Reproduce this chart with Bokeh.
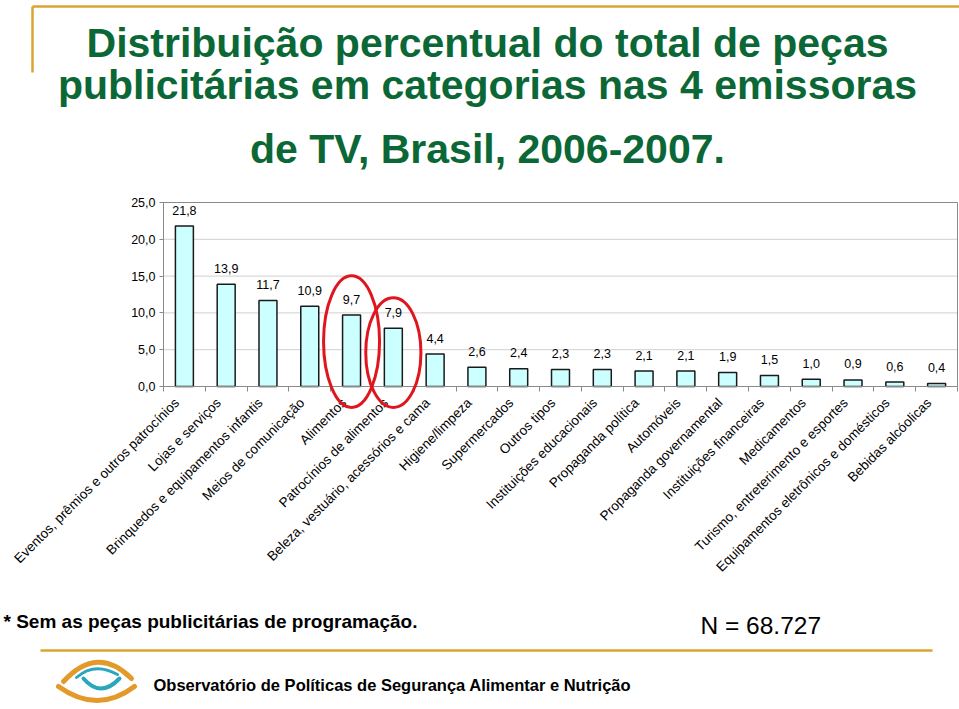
import math
from bokeh.plotting import figure
from bokeh.models import Range1d, LinearAxis, FixedTicker, Grid
from bokeh.core.properties import value
from bokeh.embed import file_html
from bokeh.resources import INLINE

# ---------------- data ----------------
categories = [
    "Eventos, prêmios e outros patrocínios",
    "Lojas e serviços",
    "Brinquedos e equipamentos infantis",
    "Meios de comunicação",
    "Alimentos",
    "Patrocínios de alimentos",
    "Beleza, vestuário, acessórios e cama",
    "Higiene/limpeza",
    "Supermercados",
    "Outros tipos",
    "Instituições educacionais",
    "Propaganda política",
    "Automóveis",
    "Propaganda governamental",
    "Instituições financeiras",
    "Medicamentos",
    "Turismo, entreterimento e esportes",
    "Equipamentos eletrônicos e domésticos",
    "Bebidas alcóolicas",
]
percentages = [21.8, 13.9, 11.7, 10.9, 9.7, 7.9, 4.4, 2.6, 2.4, 2.3, 2.3,
               2.1, 2.1, 1.9, 1.5, 1.0, 0.9, 0.6, 0.4]
y_ticks = [0, 5, 10, 15, 20, 25]
y_tick_labels = ["0,0", "5,0", "10,0", "15,0", "20,0", "25,0"]
highlighted = ["Alimentos", "Patrocínios de alimentos"]

title_lines = [
    "Distribuição percentual do total de peças",
    "publicitárias em categorias nas 4 emissoras",
    "de TV, Brasil, 2006-2007.",
]
footnote = "* Sem as peças publicitárias de programação."
n_text = "N = 68.727"
org_text = "Observatório de Políticas de Segurança Alimentar e Nutrição"

# ---------------- layout ----------------
W, H = 959, 705
PX0, PY0 = 0, 0                      # page offset of canvas
PL, PR, PT, PB = 163, 957, 202, 386  # plot box in page pixels
n = len(categories)
slot = (PR - PL) / n
ymax = y_ticks[-1]
ppu = (PB - PT) / ymax
LABEL_SHIFT = -0.18                  # category label anchor shift (in slots)

x_start = (PX0 - PL) / slot - 0.5
x_end = (PX0 + W - PL) / slot - 0.5
y_end = (PB - PY0) / ppu
y_start = (PB - (PY0 + H)) / ppu

GREEN = "#0B6836"
GOLD = "#D9A430"
GRAY = "#8a8a8a"
FONT = value("Liberation Sans")

p = figure(width=W, height=H,
           x_range=Range1d(x_start, x_end), y_range=Range1d(y_start, y_end),
           min_border=0, x_axis_location=None, y_axis_location=None,
           toolbar_location=None, output_backend="svg",
           outline_line_color=None, background_fill_color="white",
           border_fill_color="white")
p.title.visible = False
p.center = [c for c in p.center if not isinstance(c, Grid)]
p.extra_x_ranges = {"px": Range1d(PX0, PX0 + W)}
p.extra_y_ranges = {"py": Range1d(PY0 + H, PY0)}

idx = list(range(n))

# grid lines and plot box
grid_vals = y_ticks[1:-1]
p.segment(x0=[-0.5] * len(grid_vals), y0=grid_vals,
          x1=[n - 0.5] * len(grid_vals), y1=grid_vals,
          line_color="#d0d0d0", line_width=1)
p.quad(left=[-0.5], right=[n - 0.5], bottom=[0], top=[ymax],
       fill_color=None, line_color=GRAY, line_width=1)

# bars
p.vbar(x=idx, top=percentages, bottom=0, width=0.43,
       fill_color="#CCFFFF", line_color="#1a1a1a", line_width=1.5)

# value labels
val_labels = [f"{v:.1f}".replace(".", ",") for v in percentages]
p.text(x=idx, y=percentages, text=val_labels, text_align="center",
       text_baseline="middle", y_offset=-16, text_font=FONT,
       text_font_size="12.5px", text_color="black")

# axes
yaxis = LinearAxis(fixed_location=-0.5, bounds=(0, ymax),
                   ticker=FixedTicker(ticks=y_ticks),
                   major_label_overrides=dict(zip(y_ticks, y_tick_labels)),
                   axis_line_color=GRAY, major_tick_line_color=GRAY,
                   major_tick_out=4, major_tick_in=0,
                   minor_tick_line_color=None,
                   major_label_standoff=4,
                   major_label_text_font="Liberation Sans",
                   major_label_text_font_size="12.5px",
                   major_label_text_color="black")
p.add_layout(yaxis, "left")

label_pos = [round(i + LABEL_SHIFT, 3) for i in idx]
xaxis = LinearAxis(fixed_location=0, bounds=(-0.5, n - 0.5),
                   ticker=FixedTicker(ticks=label_pos,
                                      minor_ticks=[i - 0.5 for i in range(n + 1)]),
                   major_label_overrides={pos: c for pos, c in zip(label_pos, categories)},
                   major_label_orientation=math.pi / 4,
                   axis_line_color=GRAY,
                   major_tick_line_color=None, major_tick_out=0, major_tick_in=0,
                   minor_tick_line_color=GRAY, minor_tick_out=5, minor_tick_in=0,
                   major_label_standoff=9,
                   major_label_text_font="Liberation Sans",
                   major_label_text_font_size="13.5px",
                   major_label_text_color="black")
p.add_layout(xaxis, "below")

# red highlight ellipses
hx = [categories.index(c) for c in highlighted]
ell = p.ellipse(x=hx, y=[6.1, 4.6], width=[1.34, 1.32], height=[17.9, 14.9],
                fill_color=None, line_color="#E0161E", line_width=3)
ell.level = "overlay"

# ---------------- page decorations (page pixel coordinates) ----------------
kw = dict(x_range_name="px", y_range_name="py")

# top gold frame corner
p.segment(x0=[32, 32], y0=[6, 6], x1=[959, 32], y1=[6, 72],
          line_color=GOLD, line_width=2.5, **kw)

# title (y = vertical middle of each line)
p.text(x=[487] * 3, y=[42.5, 84.5, 148.5], text=title_lines, text_align="center",
       text_baseline="middle", text_font=FONT, text_font_style="bold",
       text_font_size="41px", text_color=GREEN, **kw)

# footnote and N
p.text(x=[3], y=[620.5], text=[footnote], text_align="left",
       text_baseline="middle", text_font=FONT, text_font_style="bold",
       text_font_size="19px", text_color="black", **kw)
p.text(x=[700], y=[624.5], text=[n_text], text_align="left",
       text_baseline="middle", text_font=FONT,
       text_font_size="24.5px", text_color="black", **kw)

# bottom gold rule
p.segment(x0=[40], y0=[650], x1=[932], y1=[650],
          line_color=GOLD, line_width=2.5, **kw)

# logo
p.quadratic(x0=[63, 58], y0=[681, 686], x1=[131, 134], y1=[678, 686],
            cx=[97, 97], cy=[644, 714], line_color="#E39A2A",
            line_width=5, line_cap="round", **kw)
p.quadratic(x0=[76], y0=[677], x1=[117], y1=[674], cx=[94], cy=[661],
            line_color="#2BA6BC", line_width=3, line_cap="round", **kw)
p.quadratic(x0=[83], y0=[678], x1=[119], y1=[678], cx=[100], cy=[698],
            line_color="#2BA6BC", line_width=4, line_cap="round", **kw)

p.text(x=[153], y=[684.5], text=[org_text], text_align="left",
       text_baseline="middle", text_font=FONT, text_font_style="bold",
       text_font_size="16.5px", text_color="black", **kw)

open("out.html", "w").write(file_html(p, INLINE))
